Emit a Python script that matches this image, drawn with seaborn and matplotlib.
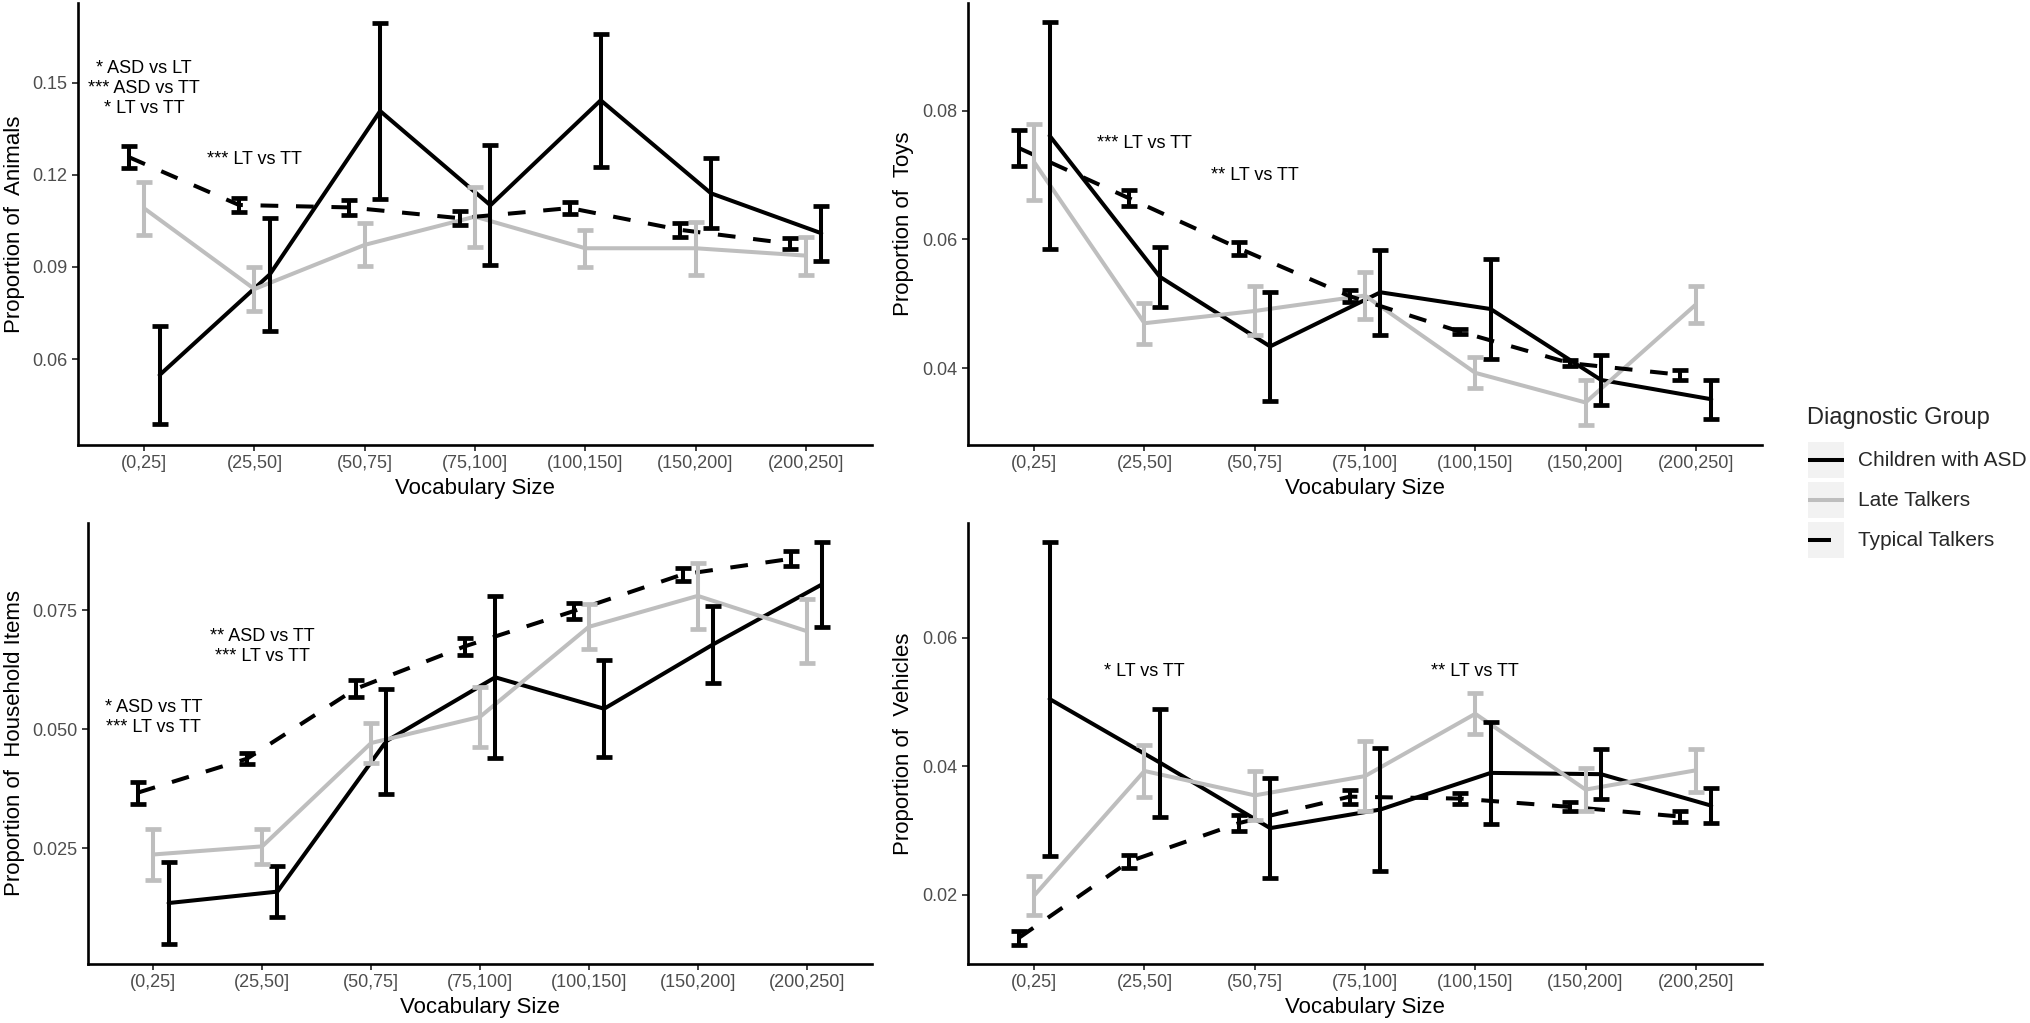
import numpy as np
import pandas as pd
import matplotlib
matplotlib.use("Agg")
import matplotlib.pyplot as plt
import seaborn as sns
from matplotlib.lines import Line2D
from matplotlib.patches import Rectangle

sns.set_theme(style="ticks")
plt.rcParams['font.family'] = ['Liberation Sans', 'DejaVu Sans']

# ---------------- data ----------------
categories = ["(0,25]", "(25,50]", "(50,75]", "(75,100]", "(100,150]", "(150,200]", "(200,250]"]
groups = ["Children with ASD", "Late Talkers", "Typical Talkers"]

# Animals
animals_asd_mean = [0.0548, 0.0876, 0.1408, 0.1101, 0.1443, 0.1140, 0.1010]
animals_asd_se   = [0.0161, 0.0183, 0.0287, 0.0196, 0.0216, 0.0114, 0.0089]
animals_lt_mean  = [0.1091, 0.0828, 0.0972, 0.1064, 0.0961, 0.0961, 0.0937]
animals_lt_se    = [0.0087, 0.0073, 0.0070, 0.0098, 0.0060, 0.0087, 0.0062]
animals_tt_mean  = [0.1258, 0.1102, 0.1094, 0.1059, 0.1092, 0.1021, 0.0976]
animals_tt_se    = [0.0037, 0.0022, 0.0024, 0.0022, 0.0019, 0.0022, 0.0018]

# Toys
toys_asd_mean = [0.0761, 0.0542, 0.0434, 0.0518, 0.0492, 0.0382, 0.0352]
toys_asd_se   = [0.0176, 0.0047, 0.0085, 0.0066, 0.0077, 0.0039, 0.0030]
toys_lt_mean  = [0.0720, 0.0470, 0.0489, 0.0513, 0.0393, 0.0347, 0.0499]
toys_lt_se    = [0.0059, 0.0032, 0.0038, 0.0037, 0.0024, 0.0035, 0.0029]
toys_tt_mean  = [0.0742, 0.0664, 0.0586, 0.0512, 0.0457, 0.0408, 0.0390]
toys_tt_se    = [0.0028, 0.0012, 0.0010, 0.0009, 0.0004, 0.0005, 0.0008]

# Household Items
house_asd_mean = [0.0135, 0.0159, 0.0475, 0.0609, 0.0543, 0.0678, 0.0804]
house_asd_se   = [0.0086, 0.0053, 0.0110, 0.0170, 0.0102, 0.0081, 0.0090]
house_lt_mean  = [0.0237, 0.0254, 0.0471, 0.0526, 0.0715, 0.0780, 0.0706]
house_lt_se    = [0.0053, 0.0036, 0.0042, 0.0063, 0.0047, 0.0069, 0.0068]
house_tt_mean  = [0.0367, 0.0438, 0.0585, 0.0674, 0.0748, 0.0825, 0.0858]
house_tt_se    = [0.0023, 0.0012, 0.0018, 0.0018, 0.0016, 0.0014, 0.0016]

# Vehicles
veh_asd_mean = [0.0505, 0.0406, 0.0304, 0.0333, 0.0390, 0.0388, 0.0339]
veh_asd_se   = [0.0245, 0.0084, 0.0078, 0.0095, 0.0079, 0.0039, 0.0027]
veh_lt_mean  = [0.0199, 0.0393, 0.0355, 0.0385, 0.0482, 0.0364, 0.0394]
veh_lt_se    = [0.0031, 0.0041, 0.0038, 0.0054, 0.0032, 0.0033, 0.0033]
veh_tt_mean  = [0.0133, 0.0252, 0.0312, 0.0353, 0.0350, 0.0337, 0.0322]
veh_tt_se    = [0.0011, 0.0010, 0.0013, 0.0011, 0.0009, 0.0007, 0.0008]

panel_names = ["Animals", "Toys", "Household Items", "Vehicles"]
panel_series = {
    "Animals": [(animals_asd_mean, animals_asd_se), (animals_lt_mean, animals_lt_se), (animals_tt_mean, animals_tt_se)],
    "Toys": [(toys_asd_mean, toys_asd_se), (toys_lt_mean, toys_lt_se), (toys_tt_mean, toys_tt_se)],
    "Household Items": [(house_asd_mean, house_asd_se), (house_lt_mean, house_lt_se), (house_tt_mean, house_tt_se)],
    "Vehicles": [(veh_asd_mean, veh_asd_se), (veh_lt_mean, veh_lt_se), (veh_tt_mean, veh_tt_se)],
}
y_ticks = {
    "Animals": [0.06, 0.09, 0.12, 0.15],
    "Toys": [0.04, 0.06, 0.08],
    "Household Items": [0.025, 0.050, 0.075],
    "Vehicles": [0.02, 0.04, 0.06],
}
y_tick_labels = {
    "Animals": ["0.06", "0.09", "0.12", "0.15"],
    "Toys": ["0.04", "0.06", "0.08"],
    "Household Items": ["0.025", "0.050", "0.075"],
    "Vehicles": ["0.02", "0.04", "0.06"],
}
annotations = {
    "Animals": [(0, 0.1482, "* ASD vs LT\n*** ASD vs TT\n* LT vs TT"), (1, 0.125, "*** LT vs TT")],
    "Toys": [(1, 0.0749, "*** LT vs TT"), (2, 0.0700, "** LT vs TT")],
    "Household Items": [(0, 0.0524, "* ASD vs TT\n*** LT vs TT"), (1, 0.0673, "** ASD vs TT\n*** LT vs TT")],
    "Vehicles": [(1, 0.0548, "* LT vs TT"), (4, 0.0548, "** LT vs TT")],
}

# ---------------- style ----------------
W, H = 2030, 1023
fig = plt.figure(figsize=(W / 100, H / 100), dpi=100)

panel_box = {  # left, top, right, bottom in pixels
    "Animals": (78, 3, 872, 445),
    "Toys": (968, 3, 1762, 445),
    "Household Items": (88, 523, 872, 964),
    "Vehicles": (968, 523, 1762, 964),
}
panel_ylim = {
    "Animals": (0.032, 0.176),
    "Toys": (0.0281, 0.0967),
    "Household Items": (0.0007, 0.0933),
    "Vehicles": (0.00925, 0.0779),
}
colors = {"Children with ASD": "#000000", "Late Talkers": "#BEBEBE", "Typical Talkers": "#000000"}
dashes = {"Children with ASD": "", "Late Talkers": "", "Typical Talkers": (4.4, 4.4)}
offsets = {"Children with ASD": 0.14, "Late Talkers": 0.0, "Typical Talkers": -0.14}
LW = 2.9

for name in panel_names:
    l, t, r, b = panel_box[name]
    ax = fig.add_axes([l / W, 1 - b / H, (r - l) / W, (b - t) / H])
    rows = []
    for g, (m, s) in zip(groups, panel_series[name]):
        for i, cat in enumerate(categories):
            rows.append({"group": g, "cat": i, "xpos": i + offsets[g], "mean": m[i], "se": s[i]})
    df = pd.DataFrame(rows)
    sns.lineplot(data=df, x="xpos", y="mean", hue="group", style="group",
                 hue_order=groups, style_order=groups, palette=colors, dashes=dashes,
                 linewidth=LW, estimator=None, sort=False, legend=False, ax=ax)
    for g in groups:
        sub = df[df.group == g]
        ax.errorbar(sub["xpos"], sub["mean"], yerr=sub["se"], fmt="none",
                    ecolor=colors[g], elinewidth=LW, capsize=5.5, capthick=3.4, zorder=3)
    ax.set_xlim(-0.6, 6.6)
    ax.set_ylim(*panel_ylim[name])
    ax.set_xticks(range(len(categories)))
    ax.set_xticklabels(categories)
    ax.set_yticks(y_ticks[name])
    ax.set_yticklabels(y_tick_labels[name])
    for sp in ["top", "right"]:
        ax.spines[sp].set_visible(False)
    for sp in ["left", "bottom"]:
        ax.spines[sp].set_linewidth(1.9)
        ax.spines[sp].set_color("black")
    ax.tick_params(axis="both", direction="out", length=4, width=1.3, color="#333333",
                   labelsize=13, labelcolor="#4D4D4D", pad=3.5)
    ax.set_xlabel("Vocabulary Size", fontsize=16, color="black")
    ax.set_ylabel("Proportion of  " + name, fontsize=16, color="black")
    wpx = r - l
    hpx = b - t
    ax.xaxis.set_label_coords(0.5, -33 / hpx)
    ax.yaxis.set_label_coords((25 - l if l < 500 else 914 - l) / wpx, 0.5)
    for xi, yv, txt in annotations[name]:
        ax.text(xi, yv, txt, ha="center", va="center", multialignment="center",
                fontsize=13, color="black", linespacing=1.25)

# ---------------- legend ----------------
def fx(x):
    return x / W

def fy(y):
    return 1 - y / H

fig.text(fx(1807), fy(418), "Diagnostic Group", fontsize=17, ha="left", va="center")
key_tops = [442, 482, 522]
key_end = {"Children with ASD": 1844, "Late Talkers": 1844, "Typical Talkers": 1831}
for g, top in zip(groups, key_tops):
    fig.add_artist(Rectangle((fx(1808), fy(top + 36)), 36 / W, 36 / H, transform=fig.transFigure,
                             facecolor="#F2F2F2", edgecolor="none"))
    yc = top + 18
    fig.add_artist(Line2D([fx(1808), fx(key_end[g])], [fy(yc), fy(yc)], transform=fig.transFigure,
                          color=colors[g], linewidth=2.9, solid_capstyle="butt"))
    fig.text(fx(1858), fy(yc), g, fontsize=15, ha="left", va="center")

fig.savefig("out.png", dpi=100)
